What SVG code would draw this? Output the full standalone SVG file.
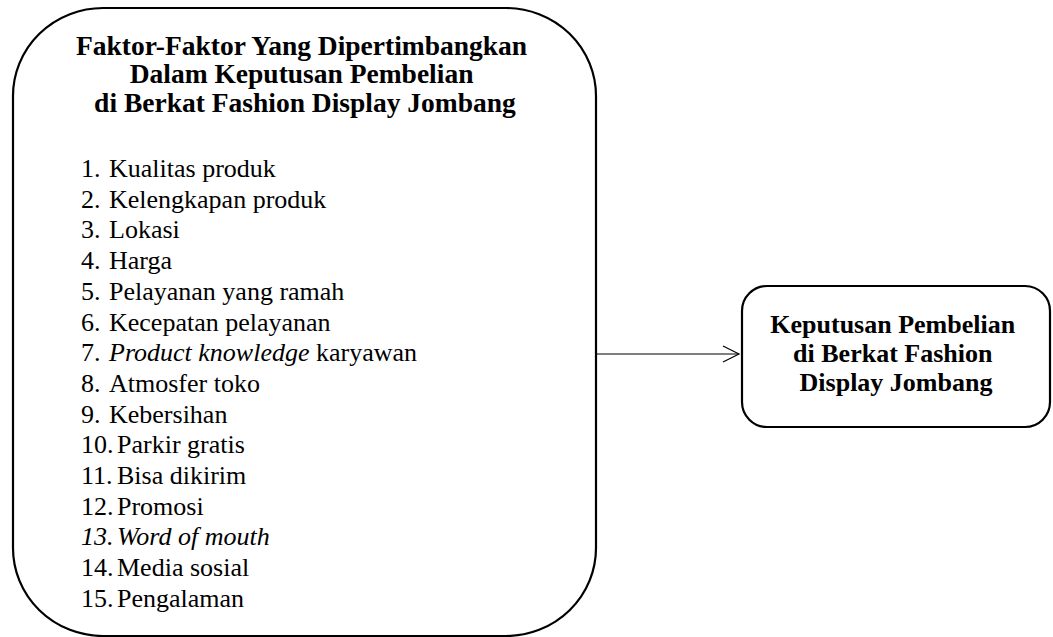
<svg xmlns="http://www.w3.org/2000/svg" width="1053" height="637" viewBox="0 0 1053 637">
<style>
.box{fill:#fff;stroke:#000;stroke-width:2.2}
.t{font-family:"Liberation Serif","Times New Roman",serif;fill:#000}
.b{font-weight:bold;font-size:26px}
.r{font-size:26px}
.conn{stroke:#000;stroke-width:1.2;fill:none}
</style>
<rect width="1053" height="637" fill="#fff"/>
<g id="node-factors">
<rect class="box" x="13" y="8" width="583" height="628" rx="90" ry="88"/>
<text class="t b" text-anchor="middle" style="font-size:27.5px">
<tspan x="305" y="55">Faktor-Faktor Yang Dipertimbangkan</tspan>
<tspan x="305" y="83">Dalam Keputusan Pembelian</tspan>
<tspan x="305" y="112">di Berkat Fashion Display Jombang</tspan>
</text>
<g class="t r">
<text x="81" y="177">1.</text><text x="109" y="177">Kualitas produk</text>
<text x="81" y="207.7">2.</text><text x="109" y="207.7">Kelengkapan produk</text>
<text x="81" y="238.4">3.</text><text x="109" y="238.4">Lokasi</text>
<text x="81" y="269.1">4.</text><text x="109" y="269.1">Harga</text>
<text x="81" y="299.8">5.</text><text x="109" y="299.8">Pelayanan yang ramah</text>
<text x="81" y="330.5">6.</text><text x="109" y="330.5">Kecepatan pelayanan</text>
<text x="81" y="361.2">7.</text><text x="109" y="361.2"><tspan font-style="italic">Product knowledge</tspan> karyawan</text>
<text x="81" y="391.9">8.</text><text x="109" y="391.9">Atmosfer toko</text>
<text x="81" y="422.6">9.</text><text x="109" y="422.6">Kebersihan</text>
<text x="81" y="453.3">10.</text><text x="117" y="453.3">Parkir gratis</text>
<text x="81" y="484">11.</text><text x="117" y="484">Bisa dikirim</text>
<text x="81" y="514.7">12.</text><text x="117" y="514.7">Promosi</text>
<text x="81" y="545.4" font-style="italic">13.</text><text x="117" y="545.4" font-style="italic">Word of mouth</text>
<text x="81" y="576.1">14.</text><text x="117" y="576.1">Media sosial</text>
<text x="81" y="606.8">15.</text><text x="117" y="606.8">Pengalaman</text>
</g>
</g>
<g id="node-decision">
<rect class="box" x="742" y="286" width="308" height="141" rx="25" ry="25"/>
<text class="t b" text-anchor="middle">
<tspan x="896" y="333">Keputusan Pembelian</tspan>
<tspan x="896" y="362">di Berkat Fashion</tspan>
<tspan x="896" y="391">Display Jombang</tspan>
</text>
</g>
<g id="connectors">
<line class="conn" x1="597" y1="354" x2="739" y2="354"/>
<polyline class="conn" points="723,346 739,354 723,362"/>
</g>
</svg>
